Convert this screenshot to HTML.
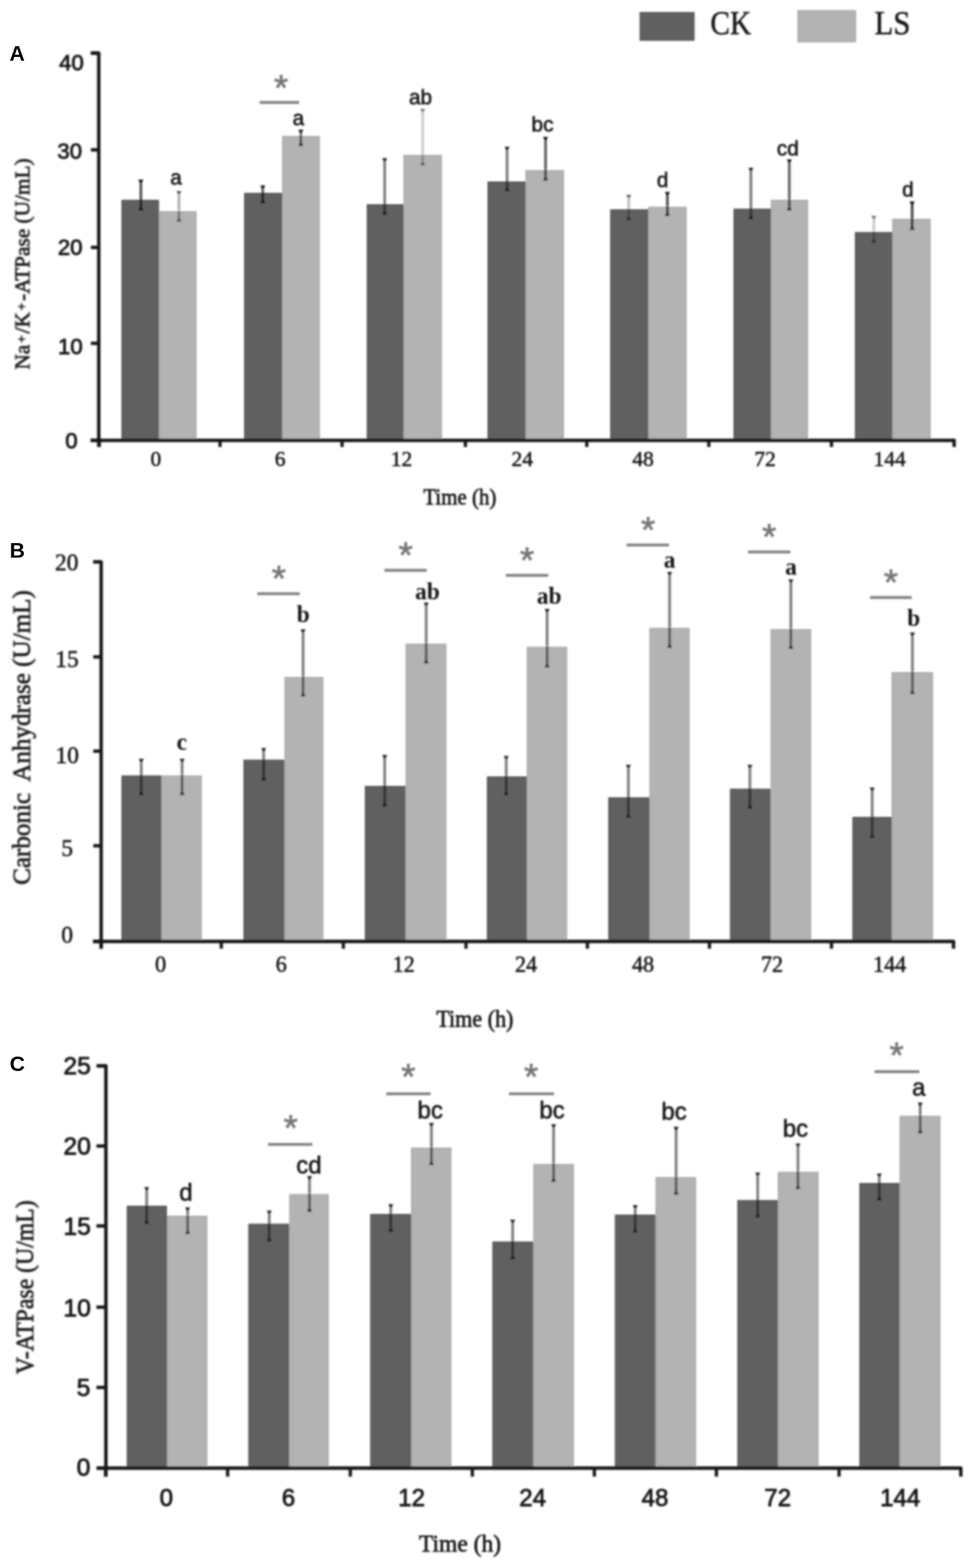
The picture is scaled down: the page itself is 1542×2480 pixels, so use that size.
<!DOCTYPE html>
<html lang="en">
<head>
<meta charset="utf-8">
<title>Figure: ATPase and carbonic anhydrase activity, CK vs LS</title>
<style>
html,body{margin:0;padding:0;background:#fff;}
body{width:1542px;height:2480px;overflow:hidden;}
svg{display:block;}
.sa{font-family:"Liberation Sans", sans-serif;}
.se{font-family:"Liberation Serif", serif;}
text{paint-order:stroke fill;stroke-linejoin:round;}
</style>
</head>
<body>
<svg width="1542" height="2480" viewBox="0 0 1542 2480">
<defs><filter id="soft" x="0" y="0" width="1542" height="2480" filterUnits="userSpaceOnUse"><feGaussianBlur stdDeviation="1.6"/></filter></defs>
<rect x="0" y="0" width="1542" height="2480" fill="#ffffff"/>
<g id="fig" filter="url(#soft)">
<rect x="1012.3" y="19.8" width="85.4" height="43.9" fill="#606060" stroke="#555555" stroke-width="1.6"/>
<rect x="1261.8" y="16.8" width="91.4" height="49.4" fill="#b3b3b3" stroke="#a9a9a9" stroke-width="1.6"/>
<text class="se" x="1123.5" y="54.3" font-size="53" fill="#161616" stroke="#161616" stroke-width="0.75" textLength="64.5" lengthAdjust="spacingAndGlyphs">CK</text>
<text class="se" x="1383" y="54.3" font-size="53" fill="#161616" stroke="#161616" stroke-width="0.75" textLength="57" lengthAdjust="spacingAndGlyphs">LS</text>
<g id="chartA">
<rect x="192.8" y="316.8" width="57.9" height="378.9" fill="#606060" stroke="#555555" stroke-width="1.6"/>
<rect x="252.3" y="334.8" width="57.9" height="360.9" fill="#b3b3b3" stroke="#a9a9a9" stroke-width="1.6"/>
<rect x="386.8" y="305.8" width="58.4" height="389.9" fill="#606060" stroke="#555555" stroke-width="1.6"/>
<rect x="446.8" y="215.8" width="58.4" height="479.9" fill="#b3b3b3" stroke="#a9a9a9" stroke-width="1.6"/>
<rect x="580.8" y="323.8" width="56.4" height="371.9" fill="#606060" stroke="#555555" stroke-width="1.6"/>
<rect x="638.8" y="245.8" width="59.4" height="449.9" fill="#b3b3b3" stroke="#a9a9a9" stroke-width="1.6"/>
<rect x="771.8" y="287.8" width="58.4" height="407.9" fill="#606060" stroke="#555555" stroke-width="1.6"/>
<rect x="831.8" y="269.8" width="59.4" height="425.9" fill="#b3b3b3" stroke="#a9a9a9" stroke-width="1.6"/>
<rect x="965.8" y="331.8" width="58.4" height="363.9" fill="#606060" stroke="#555555" stroke-width="1.6"/>
<rect x="1025.8" y="327.8" width="59.4" height="367.9" fill="#b3b3b3" stroke="#a9a9a9" stroke-width="1.6"/>
<rect x="1160.8" y="330.8" width="57.4" height="364.9" fill="#606060" stroke="#555555" stroke-width="1.6"/>
<rect x="1219.8" y="316.8" width="57.4" height="378.9" fill="#b3b3b3" stroke="#a9a9a9" stroke-width="1.6"/>
<rect x="1352.8" y="367.8" width="57.4" height="327.9" fill="#606060" stroke="#555555" stroke-width="1.6"/>
<rect x="1411.8" y="346.8" width="59.4" height="348.9" fill="#b3b3b3" stroke="#a9a9a9" stroke-width="1.6"/>
<line x1="222.8" y1="285.1" x2="222.8" y2="332" stroke="rgba(0,0,0,0.65)" stroke-width="4.4"/>
<path d="M218.6 284.1h8.4l-2.6 4.6h-3.2z" fill="rgba(0,0,0,0.85)"/>
<path d="M218.6 333h8.4l-2.6 -4.6h-3.2z" fill="rgba(0,0,0,0.85)"/>
<line x1="283" y1="302.9" x2="283" y2="349.5" stroke="rgba(0,0,0,0.30)" stroke-width="4.4"/>
<path d="M278.8 301.9h8.4l-2.6 4.6h-3.2z" fill="rgba(0,0,0,0.55)"/>
<path d="M278.8 350.5h8.4l-2.6 -4.6h-3.2z" fill="rgba(0,0,0,0.55)"/>
<line x1="415.6" y1="294.2" x2="415.6" y2="320.5" stroke="rgba(0,0,0,0.60)" stroke-width="4.4"/>
<path d="M411.4 293.2h8.4l-2.6 4.6h-3.2z" fill="rgba(0,0,0,0.85)"/>
<path d="M411.4 321.5h8.4l-2.6 -4.6h-3.2z" fill="rgba(0,0,0,0.85)"/>
<line x1="475.8" y1="206" x2="475.8" y2="230" stroke="rgba(0,0,0,0.55)" stroke-width="4.4"/>
<path d="M471.6 205h8.4l-2.6 4.6h-3.2z" fill="rgba(0,0,0,0.80)"/>
<path d="M471.6 231h8.4l-2.6 -4.6h-3.2z" fill="rgba(0,0,0,0.80)"/>
<line x1="608.4" y1="250.9" x2="608.4" y2="338.5" stroke="rgba(0,0,0,0.50)" stroke-width="4.4"/>
<path d="M604.2 249.9h8.4l-2.6 4.6h-3.2z" fill="rgba(0,0,0,0.75)"/>
<path d="M604.2 339.5h8.4l-2.6 -4.6h-3.2z" fill="rgba(0,0,0,0.75)"/>
<line x1="668.5" y1="172.9" x2="668.5" y2="260.5" stroke="rgba(0,0,0,0.20)" stroke-width="4.4"/>
<path d="M664.3 171.9h8.4l-2.6 4.6h-3.2z" fill="rgba(0,0,0,0.45)"/>
<path d="M664.3 261.5h8.4l-2.6 -4.6h-3.2z" fill="rgba(0,0,0,0.45)"/>
<line x1="802" y1="233.1" x2="802" y2="301.5" stroke="rgba(0,0,0,0.50)" stroke-width="4.4"/>
<path d="M797.8 232.1h8.4l-2.6 4.6h-3.2z" fill="rgba(0,0,0,0.75)"/>
<path d="M797.8 302.5h8.4l-2.6 -4.6h-3.2z" fill="rgba(0,0,0,0.75)"/>
<line x1="862.8" y1="217.5" x2="862.8" y2="284.5" stroke="rgba(0,0,0,0.62)" stroke-width="4.4"/>
<path d="M858.6 216.5h8.4l-2.6 4.6h-3.2z" fill="rgba(0,0,0,0.85)"/>
<path d="M858.6 285.5h8.4l-2.6 -4.6h-3.2z" fill="rgba(0,0,0,0.85)"/>
<line x1="994.4" y1="309" x2="994.4" y2="347.3" stroke="rgba(0,0,0,0.25)" stroke-width="4.4"/>
<path d="M990.2 308h8.4l-2.6 4.6h-3.2z" fill="rgba(0,0,0,0.50)"/>
<path d="M990.2 348.3h8.4l-2.6 -4.6h-3.2z" fill="rgba(0,0,0,0.50)"/>
<line x1="1055.5" y1="304.5" x2="1055.5" y2="340.5" stroke="rgba(0,0,0,0.68)" stroke-width="4.4"/>
<path d="M1051.3 303.5h8.4l-2.6 4.6h-3.2z" fill="rgba(0,0,0,0.85)"/>
<path d="M1051.3 341.5h8.4l-2.6 -4.6h-3.2z" fill="rgba(0,0,0,0.85)"/>
<line x1="1187.6" y1="266.2" x2="1187.6" y2="345.5" stroke="rgba(0,0,0,0.50)" stroke-width="4.4"/>
<path d="M1183.4 265.2h8.4l-2.6 4.6h-3.2z" fill="rgba(0,0,0,0.75)"/>
<path d="M1183.4 346.5h8.4l-2.6 -4.6h-3.2z" fill="rgba(0,0,0,0.75)"/>
<line x1="1248.3" y1="252.9" x2="1248.3" y2="332" stroke="rgba(0,0,0,0.60)" stroke-width="4.4"/>
<path d="M1244.1 251.9h8.4l-2.6 4.6h-3.2z" fill="rgba(0,0,0,0.85)"/>
<path d="M1244.1 333h8.4l-2.6 -4.6h-3.2z" fill="rgba(0,0,0,0.85)"/>
<line x1="1382" y1="342.2" x2="1382" y2="383" stroke="rgba(0,0,0,0.20)" stroke-width="4.4"/>
<path d="M1377.8 341.2h8.4l-2.6 4.6h-3.2z" fill="rgba(0,0,0,0.45)"/>
<path d="M1377.8 384h8.4l-2.6 -4.6h-3.2z" fill="rgba(0,0,0,0.45)"/>
<line x1="1442.6" y1="319.5" x2="1442.6" y2="362.5" stroke="rgba(0,0,0,0.70)" stroke-width="4.4"/>
<path d="M1438.4 318.5h8.4l-2.6 4.6h-3.2z" fill="rgba(0,0,0,0.85)"/>
<path d="M1438.4 363.5h8.4l-2.6 -4.6h-3.2z" fill="rgba(0,0,0,0.85)"/>
<path d="M143.7 84H156.2V707" fill="none" stroke="#181818" stroke-width="5.4" stroke-linejoin="round"/>
<path d="M143.2 696.5H1509V707" fill="none" stroke="#181818" stroke-width="5.4" stroke-linejoin="round"/>
<line x1="143.7" y1="84" x2="156.2" y2="84" stroke="#181818" stroke-width="5.4"/>
<text class="sa" x="113" y="110.8" font-size="35" text-anchor="middle" fill="#161616" stroke="#161616" stroke-width="1.25">40</text>
<line x1="143.7" y1="237" x2="156.2" y2="237" stroke="#181818" stroke-width="5.4"/>
<text class="sa" x="110.3" y="251.1" font-size="35" text-anchor="middle" fill="#161616" stroke="#161616" stroke-width="1.25">30</text>
<line x1="143.7" y1="391.3" x2="156.2" y2="391.3" stroke="#181818" stroke-width="5.4"/>
<text class="sa" x="111" y="403.1" font-size="35" text-anchor="middle" fill="#161616" stroke="#161616" stroke-width="1.25">20</text>
<line x1="143.7" y1="543" x2="156.2" y2="543" stroke="#181818" stroke-width="5.4"/>
<text class="sa" x="111.3" y="559.6" font-size="35" text-anchor="middle" fill="#161616" stroke="#161616" stroke-width="1.25">10</text>
<line x1="143.7" y1="696.5" x2="156.2" y2="696.5" stroke="#181818" stroke-width="5.4"/>
<text class="sa" x="113" y="709.1" font-size="35" text-anchor="middle" fill="#161616" stroke="#161616" stroke-width="1.25">0</text>
<line x1="157" y1="696.5" x2="157" y2="707" stroke="#181818" stroke-width="5.2"/>
<line x1="348" y1="696.5" x2="348" y2="707" stroke="#181818" stroke-width="5.2"/>
<line x1="541" y1="696.5" x2="541" y2="707" stroke="#181818" stroke-width="5.2"/>
<line x1="736" y1="696.5" x2="736" y2="707" stroke="#181818" stroke-width="5.2"/>
<line x1="928" y1="696.5" x2="928" y2="707" stroke="#181818" stroke-width="5.2"/>
<line x1="1121" y1="696.5" x2="1121" y2="707" stroke="#181818" stroke-width="5.2"/>
<line x1="1315" y1="696.5" x2="1315" y2="707" stroke="#181818" stroke-width="5.2"/>
<text class="se" x="246.5" y="737.3" font-size="34" text-anchor="middle" fill="#161616" stroke="#161616" stroke-width="0.8">0</text>
<text class="se" x="443" y="737.3" font-size="34" text-anchor="middle" fill="#161616" stroke="#161616" stroke-width="0.8">6</text>
<text class="se" x="635" y="737.3" font-size="34" text-anchor="middle" fill="#161616" stroke="#161616" stroke-width="0.8">12</text>
<text class="se" x="826" y="737.3" font-size="34" text-anchor="middle" fill="#161616" stroke="#161616" stroke-width="0.8">24</text>
<text class="se" x="1017" y="737.3" font-size="34" text-anchor="middle" fill="#161616" stroke="#161616" stroke-width="0.8">48</text>
<text class="se" x="1210" y="737.3" font-size="34" text-anchor="middle" fill="#161616" stroke="#161616" stroke-width="0.8">72</text>
<text class="se" x="1407" y="737.3" font-size="34" text-anchor="middle" fill="#161616" stroke="#161616" stroke-width="0.8">144</text>
<text class="se" x="727.3" y="798" font-size="36" text-anchor="middle" fill="#161616" stroke="#161616" stroke-width="1.0" textLength="115.5" lengthAdjust="spacingAndGlyphs">Time (h)</text>
<text class="se" x="46" y="417.5" font-size="34" text-anchor="middle" fill="#161616" stroke="#161616" stroke-width="1.0" transform="rotate(-90 46 417.5)" textLength="334" lengthAdjust="spacingAndGlyphs" xml:space="preserve">Na<tspan font-size="21" dy="-5" dx="3">+</tspan><tspan dy="5" dx="3">/K</tspan><tspan font-size="21" dy="-5" dx="3">+</tspan><tspan dy="5" dx="3">-ATPase (U/mL)</tspan></text>
<text class="sa" x="278.5" y="292" font-size="33" text-anchor="middle" fill="#161616" stroke="#161616" stroke-width="0.9">a</text>
<text class="sa" x="472" y="197.5" font-size="33" text-anchor="middle" fill="#161616" stroke="#161616" stroke-width="0.9">a</text>
<text class="sa" x="665" y="165" font-size="33" text-anchor="middle" fill="#161616" stroke="#161616" stroke-width="0.9">ab</text>
<text class="sa" x="858" y="208" font-size="33" text-anchor="middle" fill="#161616" stroke="#161616" stroke-width="0.9">bc</text>
<text class="sa" x="1048" y="296" font-size="33" text-anchor="middle" fill="#161616" stroke="#161616" stroke-width="0.9">d</text>
<text class="sa" x="1246" y="246" font-size="33" text-anchor="middle" fill="#161616" stroke="#161616" stroke-width="0.9">cd</text>
<text class="sa" x="1436" y="311" font-size="33" text-anchor="middle" fill="#161616" stroke="#161616" stroke-width="0.9">d</text>
<line x1="410.5" y1="162" x2="473" y2="162" stroke="#808080" stroke-width="4.6"/>
<text class="sa" x="444.5" y="159.2" font-size="58" text-anchor="middle" fill="#747474" stroke="#747474" stroke-width="0.95">*</text>
</g>
<g id="chartB">
<rect x="192.8" y="1227.3" width="61.4" height="260.9" fill="#606060" stroke="#555555" stroke-width="1.6"/>
<rect x="255.8" y="1227.3" width="62.7" height="260.9" fill="#b3b3b3" stroke="#a9a9a9" stroke-width="1.6"/>
<rect x="385.8" y="1202.3" width="63.2" height="285.9" fill="#606060" stroke="#555555" stroke-width="1.6"/>
<rect x="450.6" y="1071.5" width="60.1" height="416.7" fill="#b3b3b3" stroke="#a9a9a9" stroke-width="1.6"/>
<rect x="577.8" y="1243.8" width="62.9" height="244.4" fill="#606060" stroke="#555555" stroke-width="1.6"/>
<rect x="642.3" y="1018.8" width="62.9" height="469.4" fill="#b3b3b3" stroke="#a9a9a9" stroke-width="1.6"/>
<rect x="770.8" y="1228.8" width="61.4" height="259.4" fill="#606060" stroke="#555555" stroke-width="1.6"/>
<rect x="833.8" y="1023.8" width="62.4" height="464.4" fill="#b3b3b3" stroke="#a9a9a9" stroke-width="1.6"/>
<rect x="962.8" y="1261.8" width="63.4" height="226.4" fill="#606060" stroke="#555555" stroke-width="1.6"/>
<rect x="1027.8" y="993.8" width="62.1" height="494.4" fill="#b3b3b3" stroke="#a9a9a9" stroke-width="1.6"/>
<rect x="1155.3" y="1248.2" width="62.6" height="240" fill="#606060" stroke="#555555" stroke-width="1.6"/>
<rect x="1219.5" y="995.8" width="62.7" height="492.4" fill="#b3b3b3" stroke="#a9a9a9" stroke-width="1.6"/>
<rect x="1348.8" y="1292.8" width="60.4" height="195.4" fill="#606060" stroke="#555555" stroke-width="1.6"/>
<rect x="1410.8" y="1063.8" width="64.1" height="424.4" fill="#b3b3b3" stroke="#a9a9a9" stroke-width="1.6"/>
<line x1="223.4" y1="1201" x2="223.4" y2="1256.5" stroke="rgba(0,0,0,0.50)" stroke-width="4.4"/>
<path d="M219.2 1200h8.4l-2.6 4.6h-3.2z" fill="rgba(0,0,0,0.75)"/>
<path d="M219.2 1257.5h8.4l-2.6 -4.6h-3.2z" fill="rgba(0,0,0,0.75)"/>
<line x1="288" y1="1201" x2="288" y2="1256.5" stroke="rgba(0,0,0,0.50)" stroke-width="4.4"/>
<path d="M283.8 1200h8.4l-2.6 4.6h-3.2z" fill="rgba(0,0,0,0.75)"/>
<path d="M283.8 1257.5h8.4l-2.6 -4.6h-3.2z" fill="rgba(0,0,0,0.75)"/>
<line x1="417" y1="1183.9" x2="417" y2="1233.5" stroke="rgba(0,0,0,0.50)" stroke-width="4.4"/>
<path d="M412.8 1182.9h8.4l-2.6 4.6h-3.2z" fill="rgba(0,0,0,0.75)"/>
<path d="M412.8 1234.5h8.4l-2.6 -4.6h-3.2z" fill="rgba(0,0,0,0.75)"/>
<line x1="479.3" y1="996.2" x2="479.3" y2="1100.5" stroke="rgba(0,0,0,0.50)" stroke-width="4.4"/>
<path d="M475.1 995.2h8.4l-2.6 4.6h-3.2z" fill="rgba(0,0,0,0.75)"/>
<path d="M475.1 1101.5h8.4l-2.6 -4.6h-3.2z" fill="rgba(0,0,0,0.75)"/>
<line x1="608.4" y1="1195.1" x2="608.4" y2="1274.5" stroke="rgba(0,0,0,0.50)" stroke-width="4.4"/>
<path d="M604.2 1194.1h8.4l-2.6 4.6h-3.2z" fill="rgba(0,0,0,0.75)"/>
<path d="M604.2 1275.5h8.4l-2.6 -4.6h-3.2z" fill="rgba(0,0,0,0.75)"/>
<line x1="674" y1="953.9" x2="674" y2="1048.2" stroke="rgba(0,0,0,0.50)" stroke-width="4.4"/>
<path d="M669.8 952.9h8.4l-2.6 4.6h-3.2z" fill="rgba(0,0,0,0.75)"/>
<path d="M669.8 1049.2h8.4l-2.6 -4.6h-3.2z" fill="rgba(0,0,0,0.75)"/>
<line x1="800.6" y1="1196.5" x2="800.6" y2="1256.5" stroke="rgba(0,0,0,0.50)" stroke-width="4.4"/>
<path d="M796.4 1195.5h8.4l-2.6 4.6h-3.2z" fill="rgba(0,0,0,0.75)"/>
<path d="M796.4 1257.5h8.4l-2.6 -4.6h-3.2z" fill="rgba(0,0,0,0.75)"/>
<line x1="865.3" y1="964.1" x2="865.3" y2="1054.8" stroke="rgba(0,0,0,0.50)" stroke-width="4.4"/>
<path d="M861.1 963.1h8.4l-2.6 4.6h-3.2z" fill="rgba(0,0,0,0.75)"/>
<path d="M861.1 1055.8h8.4l-2.6 -4.6h-3.2z" fill="rgba(0,0,0,0.75)"/>
<line x1="993.8" y1="1210.5" x2="993.8" y2="1292.3" stroke="rgba(0,0,0,0.50)" stroke-width="4.4"/>
<path d="M989.6 1209.5h8.4l-2.6 4.6h-3.2z" fill="rgba(0,0,0,0.75)"/>
<path d="M989.6 1293.3h8.4l-2.6 -4.6h-3.2z" fill="rgba(0,0,0,0.75)"/>
<line x1="1059" y1="905.5" x2="1059" y2="1023.5" stroke="rgba(0,0,0,0.50)" stroke-width="4.4"/>
<path d="M1054.8 904.5h8.4l-2.6 4.6h-3.2z" fill="rgba(0,0,0,0.75)"/>
<path d="M1054.8 1024.5h8.4l-2.6 -4.6h-3.2z" fill="rgba(0,0,0,0.75)"/>
<line x1="1186" y1="1210.5" x2="1186" y2="1278" stroke="rgba(0,0,0,0.50)" stroke-width="4.4"/>
<path d="M1181.8 1209.5h8.4l-2.6 4.6h-3.2z" fill="rgba(0,0,0,0.75)"/>
<path d="M1181.8 1279h8.4l-2.6 -4.6h-3.2z" fill="rgba(0,0,0,0.75)"/>
<line x1="1250.8" y1="917.2" x2="1250.8" y2="1025.3" stroke="rgba(0,0,0,0.50)" stroke-width="4.4"/>
<path d="M1246.6 916.2h8.4l-2.6 4.6h-3.2z" fill="rgba(0,0,0,0.75)"/>
<path d="M1246.6 1026.3h8.4l-2.6 -4.6h-3.2z" fill="rgba(0,0,0,0.75)"/>
<line x1="1379.4" y1="1246.5" x2="1379.4" y2="1323.9" stroke="rgba(0,0,0,0.50)" stroke-width="4.4"/>
<path d="M1375.2 1245.5h8.4l-2.6 4.6h-3.2z" fill="rgba(0,0,0,0.75)"/>
<path d="M1375.2 1324.9h8.4l-2.6 -4.6h-3.2z" fill="rgba(0,0,0,0.75)"/>
<line x1="1443" y1="1001.3" x2="1443" y2="1096.5" stroke="rgba(0,0,0,0.50)" stroke-width="4.4"/>
<path d="M1438.8 1000.3h8.4l-2.6 4.6h-3.2z" fill="rgba(0,0,0,0.75)"/>
<path d="M1438.8 1097.5h8.4l-2.6 -4.6h-3.2z" fill="rgba(0,0,0,0.75)"/>
<path d="M147.5 888.6H160V1500.5" fill="none" stroke="#181818" stroke-width="5.4" stroke-linejoin="round"/>
<path d="M147 1489H1508V1500.5" fill="none" stroke="#181818" stroke-width="5.4" stroke-linejoin="round"/>
<line x1="147.5" y1="888.6" x2="160" y2="888.6" stroke="#181818" stroke-width="5.4"/>
<text class="se" x="105.5" y="901.9" font-size="37" text-anchor="middle" fill="#161616" stroke="#161616" stroke-width="0.8">20</text>
<line x1="147.5" y1="1039" x2="160" y2="1039" stroke="#181818" stroke-width="5.4"/>
<text class="se" x="106" y="1054.9" font-size="37" text-anchor="middle" fill="#161616" stroke="#161616" stroke-width="0.8">15</text>
<line x1="147.5" y1="1188" x2="160" y2="1188" stroke="#181818" stroke-width="5.4"/>
<text class="se" x="106.3" y="1207.4" font-size="37" text-anchor="middle" fill="#161616" stroke="#161616" stroke-width="0.8">10</text>
<line x1="147.5" y1="1337.7" x2="160" y2="1337.7" stroke="#181818" stroke-width="5.4"/>
<text class="se" x="106.3" y="1353.9" font-size="37" text-anchor="middle" fill="#161616" stroke="#161616" stroke-width="0.8">5</text>
<line x1="147.5" y1="1489" x2="160" y2="1489" stroke="#181818" stroke-width="5.4"/>
<text class="se" x="106.3" y="1491.4" font-size="37" text-anchor="middle" fill="#161616" stroke="#161616" stroke-width="0.8">0</text>
<line x1="160" y1="1489" x2="160" y2="1500.5" stroke="#181818" stroke-width="5.2"/>
<line x1="350" y1="1489" x2="350" y2="1500.5" stroke="#181818" stroke-width="5.2"/>
<line x1="543" y1="1489" x2="543" y2="1500.5" stroke="#181818" stroke-width="5.2"/>
<line x1="737" y1="1489" x2="737" y2="1500.5" stroke="#181818" stroke-width="5.2"/>
<line x1="929" y1="1489" x2="929" y2="1500.5" stroke="#181818" stroke-width="5.2"/>
<line x1="1122" y1="1489" x2="1122" y2="1500.5" stroke="#181818" stroke-width="5.2"/>
<line x1="1315" y1="1489" x2="1315" y2="1500.5" stroke="#181818" stroke-width="5.2"/>
<text class="se" x="254" y="1537" font-size="35" text-anchor="middle" fill="#161616" stroke="#161616" stroke-width="0.8">0</text>
<text class="se" x="444.7" y="1537" font-size="35" text-anchor="middle" fill="#161616" stroke="#161616" stroke-width="0.8">6</text>
<text class="se" x="638.4" y="1537" font-size="35" text-anchor="middle" fill="#161616" stroke="#161616" stroke-width="0.8">12</text>
<text class="se" x="832" y="1537" font-size="35" text-anchor="middle" fill="#161616" stroke="#161616" stroke-width="0.8">24</text>
<text class="se" x="1017" y="1537" font-size="35" text-anchor="middle" fill="#161616" stroke="#161616" stroke-width="0.8">48</text>
<text class="se" x="1221" y="1537" font-size="35" text-anchor="middle" fill="#161616" stroke="#161616" stroke-width="0.8">72</text>
<text class="se" x="1407" y="1537" font-size="35" text-anchor="middle" fill="#161616" stroke="#161616" stroke-width="0.8">144</text>
<text class="se" x="751" y="1623.5" font-size="38" text-anchor="middle" fill="#161616" stroke="#161616" stroke-width="1.0" textLength="122" lengthAdjust="spacingAndGlyphs">Time (h)</text>
<text class="se" x="47" y="1166.5" font-size="41" text-anchor="middle" fill="#161616" stroke="#161616" stroke-width="1.0" transform="rotate(-90 47 1166.5)" textLength="466" lengthAdjust="spacingAndGlyphs" xml:space="preserve">Carbonic  Anhydrase (U/mL)</text>
<text class="se" x="287.4" y="1185.5" font-size="37" text-anchor="middle" fill="#161616" font-weight="bold" stroke="#161616" stroke-width="0.05">c</text>
<text class="se" x="479.6" y="984" font-size="37" text-anchor="middle" fill="#161616" font-weight="bold" stroke="#161616" stroke-width="0.05">b</text>
<text class="se" x="676" y="947.5" font-size="37" text-anchor="middle" fill="#161616" font-weight="bold" stroke="#161616" stroke-width="0.05">ab</text>
<text class="se" x="868.5" y="955" font-size="37" text-anchor="middle" fill="#161616" font-weight="bold" stroke="#161616" stroke-width="0.05">ab</text>
<text class="se" x="1059" y="898" font-size="37" text-anchor="middle" fill="#161616" font-weight="bold" stroke="#161616" stroke-width="0.05">a</text>
<text class="se" x="1251" y="908.5" font-size="37" text-anchor="middle" fill="#161616" font-weight="bold" stroke="#161616" stroke-width="0.05">a</text>
<text class="se" x="1445" y="990" font-size="37" text-anchor="middle" fill="#161616" font-weight="bold" stroke="#161616" stroke-width="0.05">b</text>
<line x1="407" y1="939" x2="474" y2="939" stroke="#808080" stroke-width="4.6"/>
<text class="sa" x="441" y="934.8" font-size="58" text-anchor="middle" fill="#747474" stroke="#747474" stroke-width="0.95">*</text>
<line x1="608" y1="902" x2="675" y2="902" stroke="#808080" stroke-width="4.6"/>
<text class="sa" x="641.5" y="898.4" font-size="58" text-anchor="middle" fill="#747474" stroke="#747474" stroke-width="0.95">*</text>
<line x1="800" y1="910" x2="867" y2="910" stroke="#808080" stroke-width="4.6"/>
<text class="sa" x="833.5" y="906.2" font-size="58" text-anchor="middle" fill="#747474" stroke="#747474" stroke-width="0.95">*</text>
<line x1="991" y1="862" x2="1058" y2="862" stroke="#808080" stroke-width="4.6"/>
<text class="sa" x="1025" y="858.2" font-size="58" text-anchor="middle" fill="#747474" stroke="#747474" stroke-width="0.95">*</text>
<line x1="1183" y1="873" x2="1250" y2="873" stroke="#808080" stroke-width="4.6"/>
<text class="sa" x="1216.5" y="868.8" font-size="58" text-anchor="middle" fill="#747474" stroke="#747474" stroke-width="0.95">*</text>
<line x1="1376" y1="945" x2="1442" y2="945" stroke="#808080" stroke-width="4.6"/>
<text class="sa" x="1409" y="940.6" font-size="58" text-anchor="middle" fill="#747474" stroke="#747474" stroke-width="0.95">*</text>
</g>
<g id="chartC">
<rect x="201.2" y="1907.8" width="62" height="413.4" fill="#606060" stroke="#555555" stroke-width="1.6"/>
<rect x="264.8" y="1923.6" width="62.4" height="397.6" fill="#b3b3b3" stroke="#a9a9a9" stroke-width="1.6"/>
<rect x="393.5" y="1936.3" width="63.1" height="384.9" fill="#606060" stroke="#555555" stroke-width="1.6"/>
<rect x="458.2" y="1889.4" width="61" height="431.8" fill="#b3b3b3" stroke="#a9a9a9" stroke-width="1.6"/>
<rect x="586.2" y="1920.8" width="63" height="400.4" fill="#606060" stroke="#555555" stroke-width="1.6"/>
<rect x="650.8" y="1815.8" width="62.4" height="505.4" fill="#b3b3b3" stroke="#a9a9a9" stroke-width="1.6"/>
<rect x="779.4" y="1964.4" width="63.2" height="356.8" fill="#606060" stroke="#555555" stroke-width="1.6"/>
<rect x="844.2" y="1841.8" width="62.7" height="479.4" fill="#b3b3b3" stroke="#a9a9a9" stroke-width="1.6"/>
<rect x="973.2" y="1921.8" width="62.7" height="399.4" fill="#606060" stroke="#555555" stroke-width="1.6"/>
<rect x="1037.5" y="1862.4" width="62.7" height="458.8" fill="#b3b3b3" stroke="#a9a9a9" stroke-width="1.6"/>
<rect x="1166.8" y="1898.8" width="62.4" height="422.4" fill="#606060" stroke="#555555" stroke-width="1.6"/>
<rect x="1230.8" y="1854.2" width="63.1" height="467" fill="#b3b3b3" stroke="#a9a9a9" stroke-width="1.6"/>
<rect x="1359.8" y="1871.8" width="62.1" height="449.4" fill="#606060" stroke="#555555" stroke-width="1.6"/>
<rect x="1423.5" y="1765.5" width="63.2" height="555.7" fill="#b3b3b3" stroke="#a9a9a9" stroke-width="1.6"/>
<line x1="232" y1="1878.5" x2="232" y2="1934.5" stroke="rgba(0,0,0,0.50)" stroke-width="4.4"/>
<path d="M227.8 1877.5h8.4l-2.6 4.6h-3.2z" fill="rgba(0,0,0,0.75)"/>
<path d="M227.8 1935.5h8.4l-2.6 -4.6h-3.2z" fill="rgba(0,0,0,0.75)"/>
<line x1="296.8" y1="1910.5" x2="296.8" y2="1950.8" stroke="rgba(0,0,0,0.50)" stroke-width="4.4"/>
<path d="M292.6 1909.5h8.4l-2.6 4.6h-3.2z" fill="rgba(0,0,0,0.75)"/>
<path d="M292.6 1951.8h8.4l-2.6 -4.6h-3.2z" fill="rgba(0,0,0,0.75)"/>
<line x1="425.8" y1="1915.5" x2="425.8" y2="1962.5" stroke="rgba(0,0,0,0.50)" stroke-width="4.4"/>
<path d="M421.6 1914.5h8.4l-2.6 4.6h-3.2z" fill="rgba(0,0,0,0.75)"/>
<path d="M421.6 1963.5h8.4l-2.6 -4.6h-3.2z" fill="rgba(0,0,0,0.75)"/>
<line x1="489.5" y1="1861.1" x2="489.5" y2="1915.5" stroke="rgba(0,0,0,0.50)" stroke-width="4.4"/>
<path d="M485.3 1860.1h8.4l-2.6 4.6h-3.2z" fill="rgba(0,0,0,0.75)"/>
<path d="M485.3 1916.5h8.4l-2.6 -4.6h-3.2z" fill="rgba(0,0,0,0.75)"/>
<line x1="618" y1="1905.5" x2="618" y2="1947.3" stroke="rgba(0,0,0,0.50)" stroke-width="4.4"/>
<path d="M613.8 1904.5h8.4l-2.6 4.6h-3.2z" fill="rgba(0,0,0,0.75)"/>
<path d="M613.8 1948.3h8.4l-2.6 -4.6h-3.2z" fill="rgba(0,0,0,0.75)"/>
<line x1="682.3" y1="1777" x2="682.3" y2="1841.5" stroke="rgba(0,0,0,0.50)" stroke-width="4.4"/>
<path d="M678.1 1776h8.4l-2.6 4.6h-3.2z" fill="rgba(0,0,0,0.75)"/>
<path d="M678.1 1842.5h8.4l-2.6 -4.6h-3.2z" fill="rgba(0,0,0,0.75)"/>
<line x1="810.8" y1="1929.9" x2="810.8" y2="1990.5" stroke="rgba(0,0,0,0.50)" stroke-width="4.4"/>
<path d="M806.6 1928.9h8.4l-2.6 4.6h-3.2z" fill="rgba(0,0,0,0.75)"/>
<path d="M806.6 1991.5h8.4l-2.6 -4.6h-3.2z" fill="rgba(0,0,0,0.75)"/>
<line x1="875.5" y1="1779" x2="875.5" y2="1868.2" stroke="rgba(0,0,0,0.50)" stroke-width="4.4"/>
<path d="M871.3 1778h8.4l-2.6 4.6h-3.2z" fill="rgba(0,0,0,0.75)"/>
<path d="M871.3 1869.2h8.4l-2.6 -4.6h-3.2z" fill="rgba(0,0,0,0.75)"/>
<line x1="1004.6" y1="1907" x2="1004.6" y2="1948.3" stroke="rgba(0,0,0,0.50)" stroke-width="4.4"/>
<path d="M1000.4 1906h8.4l-2.6 4.6h-3.2z" fill="rgba(0,0,0,0.75)"/>
<path d="M1000.4 1949.3h8.4l-2.6 -4.6h-3.2z" fill="rgba(0,0,0,0.75)"/>
<line x1="1069.3" y1="1783.1" x2="1069.3" y2="1888.5" stroke="rgba(0,0,0,0.50)" stroke-width="4.4"/>
<path d="M1065.1 1782.1h8.4l-2.6 4.6h-3.2z" fill="rgba(0,0,0,0.75)"/>
<path d="M1065.1 1889.5h8.4l-2.6 -4.6h-3.2z" fill="rgba(0,0,0,0.75)"/>
<line x1="1198.3" y1="1855.5" x2="1198.3" y2="1924.3" stroke="rgba(0,0,0,0.50)" stroke-width="4.4"/>
<path d="M1194.1 1854.5h8.4l-2.6 4.6h-3.2z" fill="rgba(0,0,0,0.75)"/>
<path d="M1194.1 1925.3h8.4l-2.6 -4.6h-3.2z" fill="rgba(0,0,0,0.75)"/>
<line x1="1262" y1="1809.5" x2="1262" y2="1879.5" stroke="rgba(0,0,0,0.50)" stroke-width="4.4"/>
<path d="M1257.8 1808.5h8.4l-2.6 4.6h-3.2z" fill="rgba(0,0,0,0.75)"/>
<path d="M1257.8 1880.5h8.4l-2.6 -4.6h-3.2z" fill="rgba(0,0,0,0.75)"/>
<line x1="1390.6" y1="1857" x2="1390.6" y2="1897.8" stroke="rgba(0,0,0,0.50)" stroke-width="4.4"/>
<path d="M1386.4 1856h8.4l-2.6 4.6h-3.2z" fill="rgba(0,0,0,0.75)"/>
<path d="M1386.4 1898.8h8.4l-2.6 -4.6h-3.2z" fill="rgba(0,0,0,0.75)"/>
<line x1="1455.3" y1="1744.8" x2="1455.3" y2="1791.5" stroke="rgba(0,0,0,0.50)" stroke-width="4.4"/>
<path d="M1451.1 1743.8h8.4l-2.6 4.6h-3.2z" fill="rgba(0,0,0,0.75)"/>
<path d="M1451.1 1792.5h8.4l-2.6 -4.6h-3.2z" fill="rgba(0,0,0,0.75)"/>
<path d="M155 1685.7H167.5V2335.5" fill="none" stroke="#181818" stroke-width="5.4" stroke-linejoin="round"/>
<path d="M154.5 2322H1519.6V2335.5" fill="none" stroke="#181818" stroke-width="5.4" stroke-linejoin="round"/>
<line x1="152.5" y1="1685.7" x2="167.5" y2="1685.7" stroke="#181818" stroke-width="5.4"/>
<text class="sa" x="122" y="1698.5" font-size="39" text-anchor="middle" fill="#161616" stroke="#161616" stroke-width="1.25">25</text>
<line x1="152.5" y1="1812.6" x2="167.5" y2="1812.6" stroke="#181818" stroke-width="5.4"/>
<text class="sa" x="122" y="1825.8" font-size="39" text-anchor="middle" fill="#161616" stroke="#161616" stroke-width="1.25">20</text>
<line x1="152.5" y1="1939" x2="167.5" y2="1939" stroke="#181818" stroke-width="5.4"/>
<text class="sa" x="122" y="1953.3" font-size="39" text-anchor="middle" fill="#161616" stroke="#161616" stroke-width="1.25">15</text>
<line x1="152.5" y1="2067.4" x2="167.5" y2="2067.4" stroke="#181818" stroke-width="5.4"/>
<text class="sa" x="122" y="2081.5" font-size="39" text-anchor="middle" fill="#161616" stroke="#161616" stroke-width="1.25">10</text>
<line x1="152.5" y1="2194.4" x2="167.5" y2="2194.4" stroke="#181818" stroke-width="5.4"/>
<text class="sa" x="132" y="2207.5" font-size="39" text-anchor="middle" fill="#161616" stroke="#161616" stroke-width="1.25">5</text>
<line x1="152.5" y1="2322" x2="167.5" y2="2322" stroke="#181818" stroke-width="5.4"/>
<text class="sa" x="132" y="2334" font-size="39" text-anchor="middle" fill="#161616" stroke="#161616" stroke-width="1.25">0</text>
<line x1="167" y1="2322" x2="167" y2="2335.5" stroke="#181818" stroke-width="5.2"/>
<line x1="360" y1="2322" x2="360" y2="2335.5" stroke="#181818" stroke-width="5.2"/>
<line x1="554" y1="2322" x2="554" y2="2335.5" stroke="#181818" stroke-width="5.2"/>
<line x1="747" y1="2322" x2="747" y2="2335.5" stroke="#181818" stroke-width="5.2"/>
<line x1="940" y1="2322" x2="940" y2="2335.5" stroke="#181818" stroke-width="5.2"/>
<line x1="1133" y1="2322" x2="1133" y2="2335.5" stroke="#181818" stroke-width="5.2"/>
<line x1="1327" y1="2322" x2="1327" y2="2335.5" stroke="#181818" stroke-width="5.2"/>
<text class="sa" x="263" y="2381.5" font-size="38" text-anchor="middle" fill="#161616" stroke="#161616" stroke-width="1.25">0</text>
<text class="sa" x="456.4" y="2381.5" font-size="38" text-anchor="middle" fill="#161616" stroke="#161616" stroke-width="1.25">6</text>
<text class="sa" x="651" y="2381.5" font-size="38" text-anchor="middle" fill="#161616" stroke="#161616" stroke-width="1.25">12</text>
<text class="sa" x="842.4" y="2381.5" font-size="38" text-anchor="middle" fill="#161616" stroke="#161616" stroke-width="1.25">24</text>
<text class="sa" x="1036" y="2381.5" font-size="38" text-anchor="middle" fill="#161616" stroke="#161616" stroke-width="1.25">48</text>
<text class="sa" x="1230" y="2381.5" font-size="38" text-anchor="middle" fill="#161616" stroke="#161616" stroke-width="1.25">72</text>
<text class="sa" x="1423.7" y="2381.5" font-size="38" text-anchor="middle" fill="#161616" stroke="#161616" stroke-width="1.25">144</text>
<text class="se" x="727.5" y="2453.5" font-size="38" text-anchor="middle" fill="#161616" stroke="#161616" stroke-width="1.0" textLength="130" lengthAdjust="spacingAndGlyphs">Time (h)</text>
<text class="se" x="52.5" y="2036" font-size="39" text-anchor="middle" fill="#161616" stroke="#161616" stroke-width="1.0" transform="rotate(-90 52.5 2036)" textLength="275" lengthAdjust="spacingAndGlyphs" xml:space="preserve">V-ATPase (U/mL)</text>
<text class="sa" x="294" y="1899" font-size="38" text-anchor="middle" fill="#161616" stroke="#161616" stroke-width="0.9">d</text>
<text class="sa" x="488.6" y="1856" font-size="38" text-anchor="middle" fill="#161616" stroke="#161616" stroke-width="0.9">cd</text>
<text class="sa" x="680.4" y="1768.5" font-size="38" text-anchor="middle" fill="#161616" stroke="#161616" stroke-width="0.9">bc</text>
<text class="sa" x="873" y="1768.5" font-size="38" text-anchor="middle" fill="#161616" stroke="#161616" stroke-width="0.9">bc</text>
<text class="sa" x="1066" y="1771" font-size="38" text-anchor="middle" fill="#161616" stroke="#161616" stroke-width="0.9">bc</text>
<text class="sa" x="1258" y="1798" font-size="38" text-anchor="middle" fill="#161616" stroke="#161616" stroke-width="0.9">bc</text>
<text class="sa" x="1453" y="1733" font-size="38" text-anchor="middle" fill="#161616" stroke="#161616" stroke-width="0.9">a</text>
<line x1="424" y1="1810" x2="494" y2="1810" stroke="#808080" stroke-width="4.6"/>
<text class="sa" x="459.7" y="1803.7" font-size="58" text-anchor="middle" fill="#747474" stroke="#747474" stroke-width="0.95">*</text>
<line x1="611" y1="1730" x2="681" y2="1730" stroke="#808080" stroke-width="4.6"/>
<text class="sa" x="645.7" y="1722.9" font-size="58" text-anchor="middle" fill="#747474" stroke="#747474" stroke-width="0.95">*</text>
<line x1="805" y1="1730" x2="876" y2="1730" stroke="#808080" stroke-width="4.6"/>
<text class="sa" x="840" y="1723.2" font-size="58" text-anchor="middle" fill="#747474" stroke="#747474" stroke-width="0.95">*</text>
<line x1="1383" y1="1695" x2="1454" y2="1695" stroke="#808080" stroke-width="4.6"/>
<text class="sa" x="1418" y="1689.2" font-size="58" text-anchor="middle" fill="#747474" stroke="#747474" stroke-width="0.95">*</text>
</g>
</g>
<g id="labels">
<text class="sa" x="15" y="96" font-size="33.5" fill="#000" font-weight="bold">A</text>
<text class="sa" x="15.3" y="881.5" font-size="33.5" fill="#000" font-weight="bold">B</text>
<text class="sa" x="15.2" y="1693.8" font-size="33.5" fill="#000" font-weight="bold">C</text>
</g>
</svg>
</body>
</html>
